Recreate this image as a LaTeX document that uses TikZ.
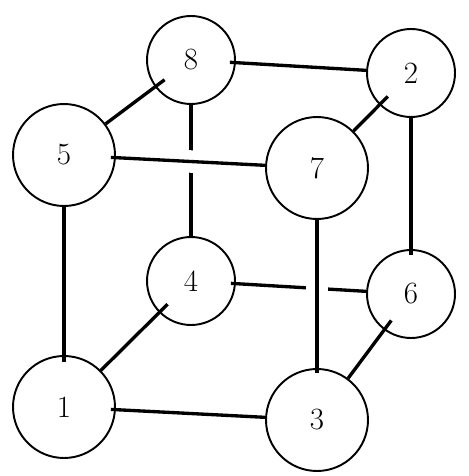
\documentclass[tikz,border=0pt]{standalone}
\usepackage{amsmath, amssymb}
\usepackage{tikz}

\begin{document}
\begin{tikzpicture}[
x=0.02cm, y=-0.02cm,
vertex/.style={draw, circle, line width=1.1pt, fill=white, inner sep=0pt, font=\fontsize{17.6}{20}\selectfont},
back/.style={vertex, minimum size=1.76cm},
front/.style={vertex, minimum size=2.04cm},
edge/.style={line width=1.9pt},
over/.style={edge, preaction={draw=white, line width=0.45cm, shorten <=1cm, shorten >=1cm}},
into/.style={shorten <=-0.24cm}
]
\useasboundingbox (0,0) rectangle (468,476);

\node[back] (eight) at (191,60) {8};
\node[back] (two) at (411,73) {2};
\node[back] (four) at (191,281) {4};
\node[back] (six) at (411,294) {6};
\node[front] (five) at (64,155) {5};
\node[front] (seven) at (317,168) {7};
\node[front] (one) at (64,407) {1};
\node[front] (three) at (317,420) {3};

% back face
\draw[edge, shorten <=-0.12cm] (eight) -- (two);
\draw[edge] (eight) -- (four);
\draw[edge, shorten <=-0.1cm] (four) -- (six);
\draw[edge, shorten >=-0.12cm] (two) -- (six);

% depth edges
\draw[edge, into] (eight) -- (five);
\draw[edge, into] (two) -- (seven);
\draw[edge, into] (four) -- (one);
\draw[edge, into] (six) -- (three);

% front face
\draw[over, shorten <=-0.1cm] (five) -- (seven);
\draw[over, shorten >=-0.1cm] (seven) -- (three);
\draw[edge, shorten >=-0.14cm] (five) -- (one);
\draw[edge, shorten <=-0.1cm] (one) -- (three);

\end{tikzpicture}
\end{document}
